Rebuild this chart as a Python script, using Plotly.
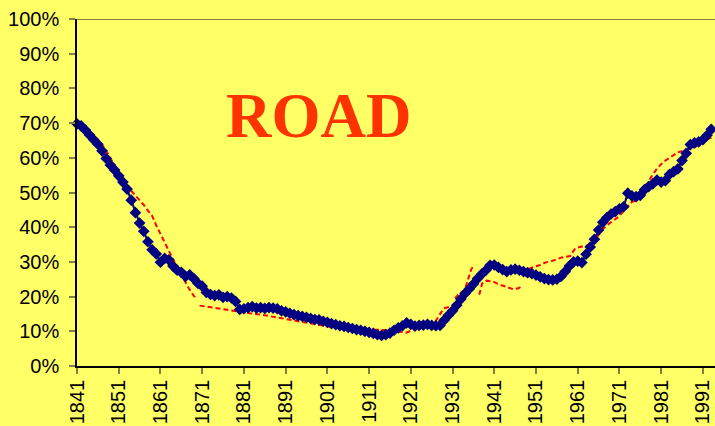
import plotly.graph_objects as go

# ---- data ----
years_blue = list(range(1841, 1994))
road_share = [
    69.8, 69.2, 68.0, 66.6, 65.2, 63.9, 62.0, 59.8, 57.9, 56.5,   # 1841-1850
    54.8, 53.0, 51.0, 47.8, 44.2, 41.2, 38.8, 35.8, 33.5, 32.3,   # 1851-1860
    29.9, 31.0, 30.6, 28.8, 27.6, 27.0, 25.8, 26.3, 25.2, 23.8,   # 1861-1870
    23.0, 21.2, 20.6, 20.3, 20.5, 19.8, 20.0, 19.6, 18.6, 16.3,   # 1871-1880
    16.5, 16.8, 17.1, 16.7, 16.8, 16.6, 16.8, 16.7, 16.5, 15.9,   # 1881-1890
    15.6, 15.2, 14.8, 14.5, 14.3, 14.0, 13.7, 13.4, 13.3, 12.9,   # 1891-1900
    12.6, 12.2, 11.9, 11.6, 11.4, 11.1, 10.8, 10.5, 10.3, 10.0,   # 1901-1910
    9.7, 9.4, 9.0, 8.8, 9.0, 9.5, 10.3, 11.0, 11.6, 12.4,         # 1911-1920
    12.0, 11.5, 11.7, 11.8, 12.0, 11.7, 11.6, 11.7, 13.2, 14.6,   # 1921-1930
    15.9, 17.5, 19.3, 20.9, 22.2, 23.6, 25.2, 26.5, 27.6, 29.0,   # 1931-1940
    29.1, 28.4, 27.8, 27.2, 27.7, 27.9, 27.6, 27.2, 26.9, 26.6,   # 1941-1950
    26.2, 25.7, 25.2, 24.9, 24.8, 25.0, 25.8, 27.2, 28.8, 30.0,   # 1951-1960
    30.2, 29.8, 32.2, 34.3, 36.5, 39.2, 41.4, 42.8, 43.8, 44.5,   # 1961-1970
    45.3, 45.9, 49.8, 49.0, 48.8, 49.2, 50.8, 51.7, 52.5, 53.6,   # 1971-1980
    53.0, 53.4, 55.2, 56.0, 56.8, 59.2, 61.3, 63.8, 64.3, 64.6,   # 1981-1990
    65.2, 66.5, 68.2,                                             # 1991-1993
]

years_red = [
    1841, 1842, 1843, 1844, 1845, 1846, 1847, 1848, 1849, 1850,
    1851, 1852, 1853, 1854, 1855, 1856, 1857, 1858, 1859, 1860,
    1861, 1862, 1863, 1864, 1865, 1866, 1867, 1868, 1869, 1869.6, 1870.0,
    1870.4, 1873.6, 1876.8, 1880, 1882.4, 1885.6, 1888.8, 1892, 1895.2, 1898.4,
    1901.6, 1904.8, 1908, 1911.6, 1914.3, 1916.5, 1918.3, 1919.9, 1921.5, 1923,
    1925, 1926.9, 1927.7, 1928.9, 1930.4, 1931.0,
    1931.6, 1932.3, 1933.9, 1934.5, 1935.5, 1935.9, 1936.5,
    1937.4, 1938.1, 1939.1, 1940.8, 1942.4, 1943.2, 1945.6, 1946.8, 1947.7, 1948.1,
    1948.6, 1949.5, 1950.5, 1952, 1953.2, 1955.2, 1957.2, 1959.2, 1960.4, 1962.4,
    1964.4, 1965.5, 1967.2, 1968.8, 1970.8, 1972.4, 1974, 1975.2, 1976.5, 1977.5,
    1978.4, 1980, 1981.6, 1983.2, 1984.8, 1986.8, 1988.5, 1990, 1992, 1993.2,
]
trend_share = [
    70.0, 69.5, 68.7, 67.8, 66.6, 65.3, 63.8, 62.0, 60.0, 57.8,
    55.5, 53.5, 51.8, 50.5, 49.2, 48.0, 46.4, 44.8, 43.3, 40.5,
    38.0, 35.5, 33.0, 30.8, 28.5, 26.2, 24.0, 22.0, 20.2, 19.5, None,
    17.4, 16.8, 16.1, 15.7, 15.2, 14.7, 14.0, 13.3, 12.8, 12.1,
    11.3, 10.8, 10.4, 10.5, 10.4, 10.3, 9.9, 9.6, 10.4, 11.5,
    12.3, 12.8, 14.4, 16.6, 17.1, None,
    19.5, 20.5, 21.9, 24.3, 27.9, 28.6, None,
    20.5, 23.8, 24.6, 24.3, 23.3, 23.1, 22.1, 22.4, 23.1, None,
    25.6, 28.1, 28.6, 29.1, 29.8, 30.4, 31.3, 31.7, 33.9, 34.6,
    34.9, 37.0, 39.7, 41.3, 43.0, 45.0, 47.3, 47.8, 48.6, 51.5,
    54.1, 56.9, 58.9, 60.1, 61.5, 62.2, 62.8, 63.7, 65.3, 65.9,
]

tick_years = list(range(1841, 1992, 10))
tick_labels = [str(y) for y in tick_years]
y_ticks = list(range(0, 101, 10))
y_tick_labels = [f"{v}%" for v in y_ticks]

BG = "#FFFF66"
OLIVE = "#808040"

fig = go.Figure()

fig.add_trace(go.Scatter(
    x=years_red, y=trend_share, mode="lines",
    line=dict(color="#FF0000", width=2, dash="5px,3px"),
    connectgaps=False, hoverinfo="skip", showlegend=False,
))

fig.add_trace(go.Scatter(
    x=years_blue, y=road_share, mode="lines+markers",
    line=dict(color="#000080", width=2),
    marker=dict(symbol="diamond", size=9, color="#000080"),
    cliponaxis=False, showlegend=False,
))

fig.add_shape(type="line", xref="paper", yref="y", x0=0, x1=1, y0=100, y1=100,
              line=dict(color=OLIVE, width=2), layer="above")

fig.add_annotation(
    text="<b>ROAD</b>", x=0.38, y=0.72, xref="paper", yref="paper",
    xanchor="center", yanchor="middle", showarrow=False,
    font=dict(family="Liberation Serif, Times New Roman, serif", size=63, color="#FF3300"),
)

fig.update_layout(
    width=715, height=426,
    margin=dict(l=77, r=0, t=19, b=60),
    paper_bgcolor=BG, plot_bgcolor=BG,
    font=dict(family="Liberation Sans, Arial, sans-serif", size=20, color="#000000"),
)

fig.update_xaxes(
    range=[1841, 1993.9], tickmode="array", tickvals=tick_years, ticktext=tick_labels,
    tickangle=-90, ticks="outside", ticklen=6, tickwidth=2, tickcolor=OLIVE,
    showline=True, linecolor="#000000", linewidth=1.5, automargin=False,
    showgrid=False, zeroline=False, ticklabelstandoff=-2,
)
fig.update_yaxes(
    range=[0, 100], tickmode="array", tickvals=y_ticks, ticktext=y_tick_labels,
    ticks="outside", ticklen=6, tickwidth=2, tickcolor=OLIVE,
    showline=True, linecolor="#000000", linewidth=1.5, automargin=False,
    showgrid=False, zeroline=False, ticklabelstandoff=6,
)

fig.write_html(
    "out.html",
    config={"displayModeBar": False},
    post_script="document.body.style.margin='0';document.body.style.overflow='hidden';",
)
